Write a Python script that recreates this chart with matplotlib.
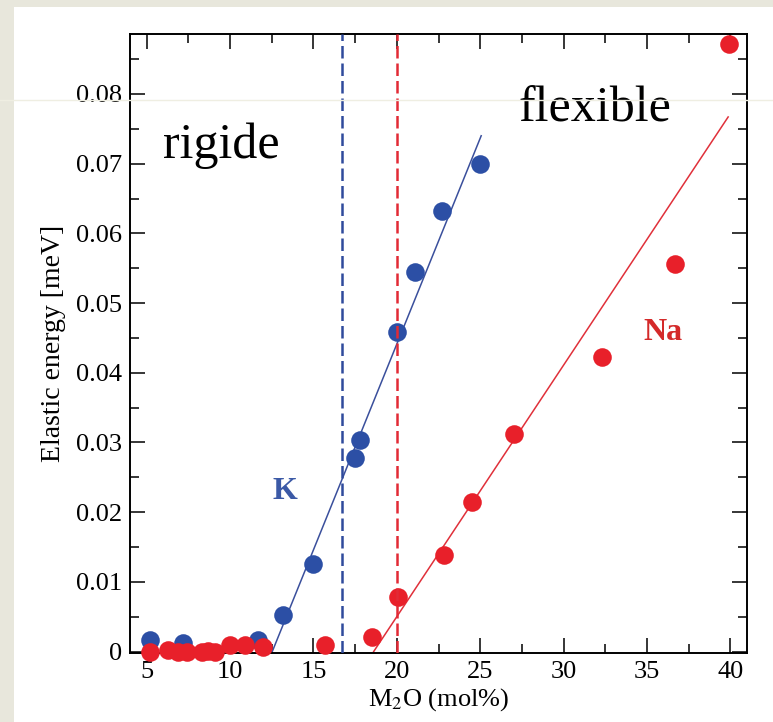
import matplotlib.pyplot as plt
from matplotlib.lines import Line2D
from matplotlib.patches import Rectangle
from matplotlib.ticker import MultipleLocator

# K2O glasses (blue)
k_x = [5.2, 7.2, 11.7, 13.2, 15.0, 17.5, 17.8, 20.0, 21.1, 22.7, 25.0]
k_y = [0.0017, 0.0013, 0.0016, 0.0052, 0.0126, 0.0278, 0.0303, 0.0458, 0.0545, 0.0632, 0.0700]

# Na2O glasses (red)
na_x = [5.2, 6.3, 6.9, 7.4, 8.3, 8.7, 9.1, 10.0, 10.9, 12.0, 15.7, 18.5, 20.1,
        22.8, 24.5, 27.0, 32.3, 36.7, 39.9]
na_y = [0.0, 0.0003, 0.0, 0.0, 0.0, 0.0001, 0.0, 0.0010, 0.0010, 0.0006, 0.0010,
        0.0021, 0.0079, 0.0138, 0.0214, 0.0312, 0.0422, 0.0556, 0.0872]

# linear fits above the threshold
k_fit_x = [12.53, 25.06]
k_fit_y = [0.0, 0.0740]
na_fit_x = [18.61, 39.87]
na_fit_y = [0.0, 0.0767]

# rigidity thresholds
k_seuil = 16.72
na_seuil = 20.0

y_ticks = [0.0, 0.01, 0.02, 0.03, 0.04, 0.05, 0.06, 0.07, 0.08]
y_labels = ["0", "0.01", "0.02", "0.03", "0.04", "0.05", "0.06", "0.07", "0.08"]
x_ticks = [5, 10, 15, 20, 25, 30, 35, 40]

bleu = "#2c4fa5"
rouge = "#e8202a"

plt.rcParams["font.family"] = "Liberation Serif"
plt.rcParams["mathtext.fontset"] = "stix"

fig = plt.figure(figsize=(7.73, 7.22), dpi=100, facecolor="#e8e7dc")
fig.patches.append(Rectangle((14 / 773, 0), 1, 1 - 7 / 722, transform=fig.transFigure,
                             facecolor="white", edgecolor="none", zorder=-10))
ax = fig.add_axes([130 / 773, 1 - 653 / 722, 617 / 773, 619 / 722])

ax.plot(k_fit_x, k_fit_y, color="#3a4f9c", lw=1.1, zorder=2)
ax.plot(na_fit_x, na_fit_y, color="#e0303a", lw=1.1, zorder=2)

ax.plot(k_x, k_y, "o", color=bleu, ms=13.4, mec="none", clip_on=False, zorder=3)
ax.plot(na_x, na_y, "o", color=rouge, ms=13.4, mec="none", clip_on=False, zorder=4)

ax.axvline(k_seuil, color="#2f4a9c", lw=1.8, dashes=(5, 2), zorder=5)
ax.axvline(na_seuil, color="#e22a35", lw=1.8, dashes=(5, 2), zorder=5)

ax.text(13.3, 0.0229, "K", color="#3b59a6", fontsize=23, fontweight="bold",
        ha="center", va="center")
ax.text(35.95, 0.0458, "Na", color="#d42a2a", fontsize=23, fontweight="bold",
        ha="center", va="center")
ax.text(6.0, 0.0708, "rigide", fontsize=36, ha="left", va="baseline")
ax.text(27.3, 0.0760, "flexible", fontsize=36, ha="left", va="baseline")

ax.set_xlim(4.0, 41.0)
ax.set_ylim(-0.0002, 0.0886)
ax.set_xticks(x_ticks)
ax.set_yticks(y_ticks)
ax.set_yticklabels(y_labels)
ax.xaxis.set_minor_locator(MultipleLocator(2.5))
ax.yaxis.set_minor_locator(MultipleLocator(0.005))
ax.tick_params(which="both", direction="in", top=True, right=True, width=1.1)
ax.tick_params(which="major", length=11, labelsize=19, pad=6)
ax.tick_params(which="minor", length=6.5)
for s in ax.spines.values():
    s.set_linewidth(1.4)

ax.set_xlabel("M$_2$O (mol%)", fontsize=19, labelpad=2)
ax.set_ylabel("Elastic energy [meV]", fontsize=20, labelpad=7)

# faint horizontal rule across the slide
fig.add_artist(Line2D([0, 1], [1 - 100 / 722] * 2, transform=fig.transFigure,
                      color="#efeee2", lw=1, zorder=10))

fig.savefig("out.png", dpi=100, facecolor=fig.get_facecolor())
